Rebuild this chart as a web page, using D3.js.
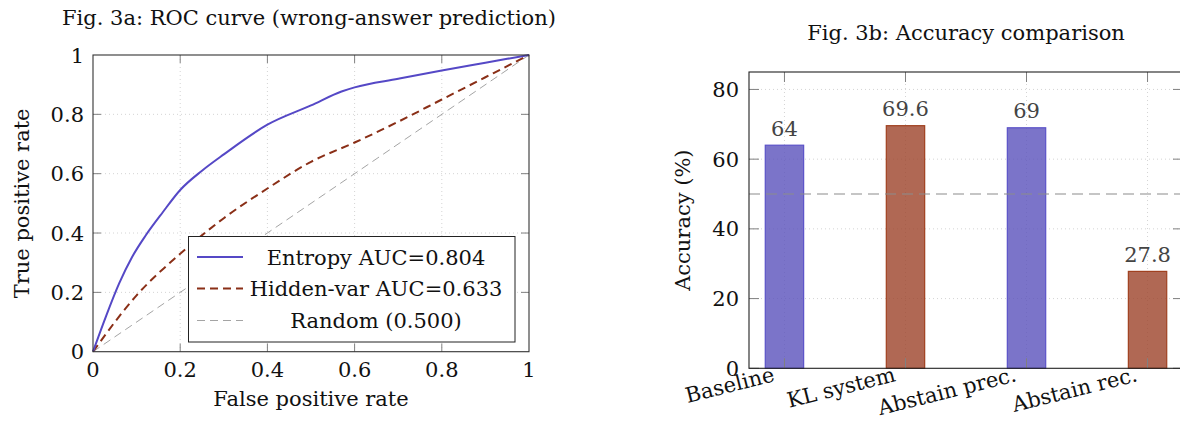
<!DOCTYPE html>
<html><head><meta charset="utf-8">
<script src="https://cdn.jsdelivr.net/npm/d3@7"></script>
<style>
html,body{margin:0;padding:0;background:#fff;}
svg{display:block;}
text{font-family:"DejaVu Serif","Liberation Serif",serif;fill:#111;}
</style></head>
<body>
<svg id="c" width="1180" height="421"></svg>
<script>
// ---- Data: Fig. 3a ROC curves ----
const entropyFPR = [0,0.03,0.06,0.09,0.12,0.16,0.20,0.25,0.30,0.40,0.50,0.57,0.60,0.70,0.80,0.90,1.0];
const entropyTPR = [0,0.12,0.23,0.32,0.39,0.47,0.545,0.61,0.665,0.765,0.83,0.877,0.891,0.92,0.948,0.974,1.0];
const hiddenFPR = [0,0.10,0.20,0.30,0.40,0.50,0.60,0.70,0.80,0.90,1.0];
const hiddenTPR = [0,0.19,0.33,0.45,0.55,0.64,0.705,0.775,0.85,0.925,1.0];
const randomFPR = [0,1];
const randomTPR = [0,1];
const rocTicks = [0,0.2,0.4,0.6,0.8,1];
const rocTickLabels = ["0","0.2","0.4","0.6","0.8","1"];
const legendLabels = ["Entropy AUC=0.804","Hidden-var AUC=0.633","Random (0.500)"];

// ---- Data: Fig. 3b accuracy bars ----
const barCategories = ["Baseline","KL system","Abstain prec.","Abstain rec."];
const barValues = [64,69.6,69,27.8];
const barLabels = ["64","69.6","69","27.8"];
const accTicks = [0,20,40,60,80];
const chanceLevel = 50;

const svg = d3.select("#c");
const FS = 21;

// ================= Left: ROC =================
(function(){
  const L=93, R=529, T=55, B=351.7;
  const x = d3.scaleLinear().domain([0,1]).range([L,R]);
  const y = d3.scaleLinear().domain([0,1]).range([B,T]);
  const g = svg.append("g");
  g.selectAll(".gx").data(rocTicks.slice(1,-1)).join("line")
    .attr("x1",d=>x(d)).attr("x2",d=>x(d)).attr("y1",T).attr("y2",B)
    .attr("stroke","#d4d4d4").attr("stroke-width",1).attr("stroke-dasharray","1,3");
  g.selectAll(".gy").data(rocTicks.slice(1,-1)).join("line")
    .attr("y1",d=>y(d)).attr("y2",d=>y(d)).attr("x1",L).attr("x2",R)
    .attr("stroke","#d4d4d4").attr("stroke-width",1).attr("stroke-dasharray","1,3");
  const tl=8;
  rocTicks.slice(1,-1).forEach(d=>{
    g.append("line").attr("x1",x(d)).attr("x2",x(d)).attr("y1",B).attr("y2",B-tl).attr("stroke","#808080");
    g.append("line").attr("x1",x(d)).attr("x2",x(d)).attr("y1",T).attr("y2",T+tl).attr("stroke","#808080");
    g.append("line").attr("y1",y(d)).attr("y2",y(d)).attr("x1",L).attr("x2",L+tl).attr("stroke","#808080");
    g.append("line").attr("y1",y(d)).attr("y2",y(d)).attr("x1",R).attr("x2",R-tl).attr("stroke","#808080");
  });
  const line = d3.line().x(d=>x(d[0])).y(d=>y(d[1]));
  const smooth = d3.line().x(d=>x(d[0])).y(d=>y(d[1])).curve(d3.curveMonotoneX);
  g.append("path").datum(d3.zip(randomFPR,randomTPR)).attr("d",line)
    .attr("fill","none").attr("stroke","#9a9a9a").attr("stroke-width",0.9).attr("stroke-dasharray","8,5");
  g.append("path").datum(d3.zip(hiddenFPR,hiddenTPR)).attr("d",smooth)
    .attr("fill","none").attr("stroke","#8a2f17").attr("stroke-width",2).attr("stroke-dasharray","8,5");
  g.append("path").datum(d3.zip(entropyFPR,entropyTPR)).attr("d",smooth)
    .attr("fill","none").attr("stroke","#5548c6").attr("stroke-width",2).attr("stroke-linejoin","round");
  g.append("rect").attr("x",L).attr("y",T).attr("width",R-L).attr("height",B-T)
    .attr("fill","none").attr("stroke","#333").attr("stroke-width",1.1);
  g.selectAll(".xl").data(rocTicks).join("text")
    .attr("x",d=>x(d)).attr("y",377).attr("text-anchor","middle").attr("font-size",FS)
    .text((d,i)=>rocTickLabels[i]);
  g.selectAll(".yl").data(rocTicks).join("text")
    .attr("x",84).attr("y",d=>y(d)+7.5).attr("text-anchor","end").attr("font-size",FS)
    .text((d,i)=>rocTickLabels[i]);
  g.append("text").attr("x",(L+R)/2).attr("y",406).attr("text-anchor","middle").attr("font-size",FS)
    .text("False positive rate");
  g.append("text").attr("transform",`translate(29,${(T+B)/2}) rotate(-90)`).attr("text-anchor","middle").attr("font-size",FS)
    .text("True positive rate");
  g.append("text").attr("x",309).attr("y",25).attr("text-anchor","middle").attr("font-size",FS)
    .text("Fig. 3a: ROC curve (wrong-answer prediction)");
  const lg = g.append("g");
  lg.append("rect").attr("x",188.5).attr("y",236.5).attr("width",326.5).attr("height",105.5)
    .attr("fill","#fff").attr("stroke","#222").attr("stroke-width",1);
  const rowsY=[257,288.5,320.5];
  const styles=[{c:"#5548c6",w:2,d:null},{c:"#8a2f17",w:2,d:"8,5"},{c:"#9a9a9a",w:0.9,d:"8,5"}];
  legendLabels.forEach((t,i)=>{
    lg.append("line").attr("x1",197).attr("x2",243).attr("y1",rowsY[i]).attr("y2",rowsY[i])
      .attr("stroke",styles[i].c).attr("stroke-width",styles[i].w).attr("stroke-dasharray",styles[i].d);
    lg.append("text").attr("x",376).attr("y",rowsY[i]+7.5).attr("text-anchor","middle").attr("font-size",FS).text(t);
  });
})();

// ================= Right: bars =================
(function(){
  const L=749, R=1183, T=72, B=368.3;
  const x = d3.scalePoint().domain(barCategories).range([L,R]).padding(0.293);
  const y = d3.scaleLinear().domain([0,85]).range([B,T]);
  const bw = x.step()*0.317;
  const g = svg.append("g");
  g.selectAll(".gy").data(accTicks.slice(1)).join("line")
    .attr("y1",d=>y(d)).attr("y2",d=>y(d)).attr("x1",L).attr("x2",R)
    .attr("stroke","#d4d4d4").attr("stroke-width",1).attr("stroke-dasharray","1,3");
  g.selectAll(".gx").data(barCategories).join("line")
    .attr("x1",d=>x(d)).attr("x2",d=>x(d)).attr("y1",T).attr("y2",B)
    .attr("stroke","#d4d4d4").attr("stroke-width",1).attr("stroke-dasharray","1,3");
  const fills=["#5a51bb","#9c4229"], strokes=["#5b52c8","#a0401f"];
  g.selectAll(".bar").data(barValues).join("rect")
    .attr("x",(d,i)=>x(barCategories[i])-bw/2).attr("width",bw)
    .attr("y",d=>y(d)).attr("height",d=>B-y(d))
    .attr("fill",(d,i)=>fills[i%2]).attr("fill-opacity",0.8)
    .attr("stroke",(d,i)=>strokes[i%2]).attr("stroke-width",1.2);
  g.append("line").attr("x1",L).attr("x2",R).attr("y1",y(chanceLevel)).attr("y2",y(chanceLevel))
    .attr("stroke","#8c8c8c").attr("stroke-width",1.1).attr("stroke-dasharray","11,6");
  const tl=10;
  barCategories.forEach(c=>{
    g.append("line").attr("x1",x(c)).attr("x2",x(c)).attr("y1",B).attr("y2",B-tl).attr("stroke","#808080");
    g.append("line").attr("x1",x(c)).attr("x2",x(c)).attr("y1",T).attr("y2",T+tl).attr("stroke","#808080");
  });
  accTicks.forEach(d=>{
    g.append("line").attr("y1",y(d)).attr("y2",y(d)).attr("x1",L).attr("x2",L+tl).attr("stroke","#808080");
    g.append("line").attr("y1",y(d)).attr("y2",y(d)).attr("x1",R).attr("x2",R-tl).attr("stroke","#808080");
  });
  g.append("rect").attr("x",L).attr("y",T).attr("width",R-L).attr("height",B-T)
    .attr("fill","none").attr("stroke","#222").attr("stroke-width",1.1);
  g.selectAll(".vl").data(barValues).join("text")
    .attr("x",(d,i)=>x(barCategories[i])).attr("y",d=>y(d)-9.5).attr("text-anchor","middle")
    .attr("font-size",FS).style("fill","#444").text((d,i)=>barLabels[i]);
  g.selectAll(".yl").data(accTicks).join("text")
    .attr("x",739).attr("y",d=>y(d)+7.5).attr("text-anchor","end").attr("font-size",FS).text(d=>d);
  g.selectAll(".xl").data(barCategories).join("text")
    .attr("transform",d=>`translate(${x(d)-9},381) rotate(-14)`)
    .attr("text-anchor","end").attr("font-size",FS).text(d=>d);
  g.append("text").attr("transform",`translate(690,${(T+B)/2}) rotate(-90)`).attr("text-anchor","middle").attr("font-size",FS)
    .text("Accuracy (%)");
  g.append("text").attr("x",966).attr("y",40).attr("text-anchor","middle").attr("font-size",FS)
    .text("Fig. 3b: Accuracy comparison");
})();
</script>
</body></html>
